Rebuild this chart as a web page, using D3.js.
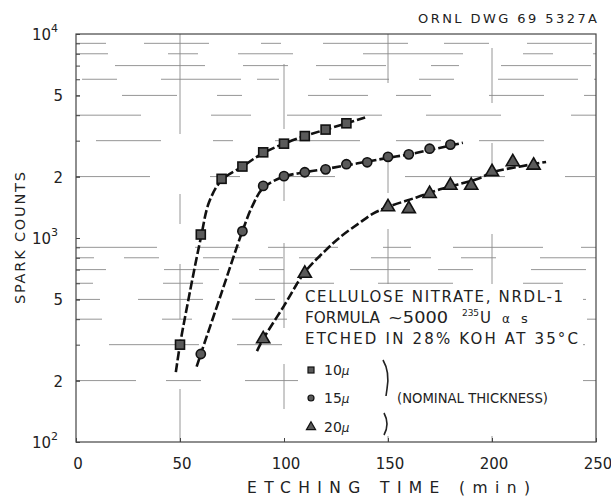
<!DOCTYPE html>
<html><head><meta charset="utf-8">
<script src="https://cdn.jsdelivr.net/npm/d3@7"></script>
<style>body{margin:0;background:#fff}text{font-family:"DejaVu Sans",sans-serif;fill:#222}</style>
</head><body><svg id="c" width="611" height="498"></svg>
<script>
// ---- data ----
const xTicks = [0, 50, 100, 150, 200, 250];
const yTicks = [100, 200, 500, 1000, 2000, 5000, 10000];
const yTickLabels = ["10|2", "2", "5", "10|3", "2", "5", "10|4"];
const xGrid = [50, 100, 150, 200];
const yGrid = [200, 300, 400, 500, 600, 700, 800, 900, 2000, 3000, 4000, 5000, 6000, 7000, 8000, 9000];

// measured points: [time (min), spark counts]
const pts10 = [[50,300],[60,1040],[70,1950],[80,2240],[90,2630],[100,2900],[110,3160],[120,3400],[130,3650]];
const pts15 = [[60,270],[80,1080],[90,1800],[100,2010],[110,2100],[120,2170],[130,2300],[140,2350],[150,2500],[160,2570],[170,2740],[180,2870]];
const pts20 = [[90,320],[110,670],[150,1420],[160,1390],[170,1650],[180,1810],[190,1810],[200,2110],[210,2360],[220,2270]];

// hand-drawn fitted curves
const fit10 = [[48,220],[50,300],[55,560],[60,1000],[64,1500],[70,1920],[80,2240],[90,2610],[100,2900],[110,3160],[120,3400],[130,3650],[139,3900]];
const fit15 = [[58,234],[60,270],[70,540],[80,1080],[85,1450],[90,1760],[100,2000],[110,2100],[120,2180],[130,2270],[140,2370],[150,2470],[160,2570],[170,2700],[180,2840],[186,2930]];
const fit20 = [[87,279],[90,320],[100,465],[110,680],[120,870],[127,1010],[136,1180],[143,1320],[150,1420],[164,1585],[175,1733],[194,1963],[200,2100],[213,2237],[226,2360]];

const svg = d3.select("#c");
const L = 76, R = 596, T = 34, B = 442;
const x = d3.scaleLinear().domain([0, 250]).range([L, R]);
const y = d3.scaleLog().domain([100, 10000]).range([B, T]);

// broken grid (faded scan look)
const dashes = ["60,30,35,44,80,16,22,50","28,42,90,38,45,28,70,45","100,60,30,40,55,70","45,38,65,52,20,42,85,36","75,70,40,36,95,44","35,58,55,40,25,66,60,28"];
svg.append("g").selectAll("line").data(yGrid).join("line")
  .attr("x1", L).attr("x2", R).attr("y1", d => y(d)).attr("y2", d => y(d))
  .attr("stroke", "#8a8a8a").attr("stroke-width", 0.9)
  .attr("stroke-dasharray", (d, i) => dashes[i % dashes.length])
  .attr("stroke-dashoffset", (d, i) => (i * 37) % 90);
svg.append("g").selectAll("line").data(xGrid).join("line")
  .attr("y1", T).attr("y2", B).attr("x1", d => x(d)).attr("x2", d => x(d))
  .attr("stroke", "#8a8a8a").attr("stroke-width", 0.9)
  .attr("stroke-dasharray", (d, i) => dashes[(i + 2) % dashes.length])
  .attr("stroke-dashoffset", (d, i) => (i * 53) % 80);

// frame
svg.append("rect").attr("x", L).attr("y", T).attr("width", R - L).attr("height", B - T)
  .attr("fill", "none").attr("stroke", "#444").attr("stroke-width", 1.2);

// axes (small inward ticks)
const yAx = svg.append("g").attr("transform", `translate(${L},0)`)
  .call(d3.axisLeft(y).tickValues(yTicks.concat(yGrid)).tickSize(-4).tickFormat(""));
yAx.select(".domain").remove();
yAx.selectAll("line").attr("stroke", "#444");
const xAx = svg.append("g").attr("transform", `translate(0,${B})`)
  .call(d3.axisBottom(x).tickValues(xTicks).tickSize(-4).tickFormat(""));
xAx.select(".domain").remove();
xAx.selectAll("line").attr("stroke", "#444");

// y tick labels
const yl = svg.append("g").selectAll("text").data(yTicks).join("text")
  .attr("x", 63).attr("y", d => y(d) + 6).attr("text-anchor", "end").attr("font-size", 15);
yl.each(function(d, i) {
  const parts = yTickLabels[i].split("|");
  const t = d3.select(this);
  if (parts.length === 1) { t.text(parts[0]); }
  else {
    t.attr("x", 58);
    t.append("tspan").text(parts[0]);
    t.append("tspan").attr("dy", -8).attr("font-size", 11).text(parts[1]);
  }
});
// x tick labels
svg.append("g").selectAll("text").data(xTicks).join("text")
  .attr("x", d => x(d) + 2).attr("y", 469).attr("text-anchor", "middle").attr("font-size", 15)
  .text(d => d);

// axis titles
svg.append("text").attr("x", 247).attr("y", 493).attr("font-size", 15.5)
  .attr("textLength", 283).attr("lengthAdjust", "spacing").text("ETCHING TIME (min)");
svg.append("text").attr("transform", "translate(25,304) rotate(-90)").attr("font-size", 14.5)
  .attr("textLength", 132).attr("lengthAdjust", "spacing").text("SPARK COUNTS");
svg.append("text").attr("x", 418).attr("y", 23).attr("font-size", 13)
  .attr("textLength", 179).attr("lengthAdjust", "spacing").text("ORNL  DWG 69  5327A");

// curves
const line = d3.line().x(d => x(d[0])).y(d => y(d[1])).curve(d3.curveCatmullRom.alpha(0.5));
[fit10, fit15, fit20].forEach(f => {
  svg.append("path").attr("d", line(f)).attr("fill", "none").attr("stroke", "#111")
    .attr("stroke-width", 2.6).attr("stroke-dasharray", "9,3");
});

// markers
const mk = { fill: "#5a5a5a", stroke: "#111", sw: 1.6 };
svg.append("g").selectAll("rect").data(pts10).join("rect")
  .attr("x", d => x(d[0]) - 4.5).attr("y", d => y(d[1]) - 4.5).attr("width", 9).attr("height", 9)
  .attr("fill", mk.fill).attr("stroke", mk.stroke).attr("stroke-width", mk.sw);
svg.append("g").selectAll("circle").data(pts15).join("circle")
  .attr("cx", d => x(d[0])).attr("cy", d => y(d[1])).attr("r", 4.6)
  .attr("fill", mk.fill).attr("stroke", mk.stroke).attr("stroke-width", mk.sw);
const tri = d3.symbol().type(d3.symbolTriangle).size(75);
svg.append("g").selectAll("path").data(pts20).join("path")
  .attr("d", tri).attr("transform", d => `translate(${x(d[0])},${y(d[1])})`)
  .attr("fill", mk.fill).attr("stroke", mk.stroke).attr("stroke-width", mk.sw);

// annotation
const ann = svg.append("g").attr("font-size", 15);
ann.append("rect").attr("x", 298).attr("y", 284).attr("width", 285).attr("height", 152).attr("fill", "#fff");
ann.append("text").attr("x", 305).attr("y", 302).attr("textLength", 258).attr("lengthAdjust", "spacing")
  .text("CELLULOSE NITRATE, NRDL-1");
ann.append("text").attr("x", 305).attr("y", 323).attr("textLength", 75).attr("lengthAdjust", "spacingAndGlyphs")
  .text("FORMULA");
ann.append("text").attr("x", 388).attr("y", 323).attr("textLength", 60).attr("lengthAdjust", "spacingAndGlyphs")
  .text("~5000");
ann.append("text").attr("x", 462).attr("y", 316).attr("font-size", 9).attr("textLength", 17).text("235");
ann.append("text").attr("x", 480).attr("y", 323).text("U");
ann.append("text").attr("x", 502).attr("y", 323).attr("font-size", 12).text("α");
ann.append("text").attr("x", 521).attr("y", 323).attr("font-size", 13).text("s");
ann.append("text").attr("x", 305).attr("y", 344).attr("textLength", 273).attr("lengthAdjust", "spacing")
  .text("ETCHED IN 28% KOH AT 35°C");

// legend
const legY = [370, 398, 427];
ann.append("rect").attr("x", 308).attr("y", legY[0] - 3).attr("width", 6).attr("height", 6)
  .attr("fill", mk.fill).attr("stroke", mk.stroke).attr("stroke-width", 1.2);
ann.append("circle").attr("cx", 311).attr("cy", legY[1]).attr("r", 3)
  .attr("fill", mk.fill).attr("stroke", mk.stroke).attr("stroke-width", 1.2);
ann.append("path").attr("d", d3.symbol().type(d3.symbolTriangle).size(36))
  .attr("transform", `translate(311,${legY[2]})`)
  .attr("fill", mk.fill).attr("stroke", mk.stroke).attr("stroke-width", 1.2);
["10", "15", "20"].forEach((s, i) => {
  const t = ann.append("text").attr("x", 324).attr("y", legY[i] + 5).attr("font-size", 14);
  t.append("tspan").text(s);
  t.append("tspan").attr("font-style", "italic").attr("font-size", 12).text("μ");
});
ann.append("path")
  .attr("d", "M383,360 Q390,372 387,389 L386,396")
  .attr("fill", "none").attr("stroke", "#222").attr("stroke-width", 1.6);
ann.append("path")
  .attr("d", "M384,413 Q390,424 384,435")
  .attr("fill", "none").attr("stroke", "#222").attr("stroke-width", 1.6);
ann.append("text").attr("x", 397).attr("y", 403).attr("font-size", 14).attr("textLength", 151).attr("lengthAdjust", "spacingAndGlyphs")
  .text("(NOMINAL THICKNESS)");
</script></body></html>
